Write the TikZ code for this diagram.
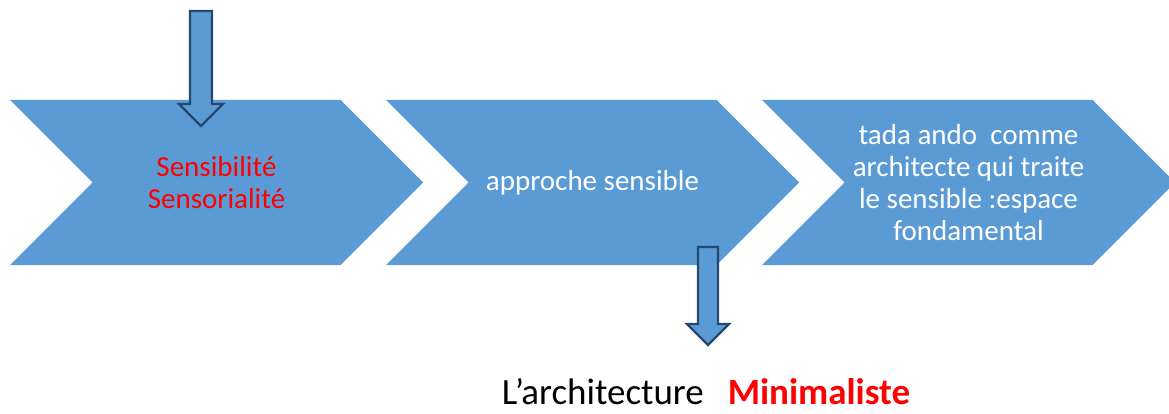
\documentclass[tikz,border=0pt]{standalone}
\usepackage{fontspec}
\setmainfont{Carlito}
\usepackage{xcolor}
\usetikzlibrary{shapes.symbols,positioning}
\definecolor{chevblue}{RGB}{91,155,213}
\definecolor{arrowedge}{RGB}{37,72,112}
\definecolor{accentred}{RGB}{255,0,0}

\begin{document}
\begin{tikzpicture}[
  x=1pt, y=-1pt,
  chevron/.style={signal, signal from=west, signal to=east, fill=chevblue, minimum width=413pt, minimum height=165pt, inner sep=0pt, align=center, font=\fontsize{29}{32}\selectfont},
  blockarrow/.style={fill=chevblue, draw=arrowedge, line width=2.2pt, line join=miter},
  caption/.style={anchor=base, inner sep=0pt, font=\fontsize{37}{40}\selectfont}
]
  \useasboundingbox (0,0) rectangle (1169,414);

  \node[chevron, text=accentred] (sens) at (216.5,182.5) {Sensibilité\\Sensorialité};
  \node[chevron, text=white] (approche) at (592.5,182.5) {approche sensible};
  \node[chevron, text=white] (ando) at (968.5,182.5) {tada ando~ comme\\architecte qui traite\\le sensible :espace\\fondamental};

  % block arrows
  \draw[blockarrow] (190,11) -- (212,11) -- (212,104) -- (223,104) -- (201,126) -- (179,104) -- (190,104) -- cycle;
  \draw[blockarrow] (698,247) -- (718,247) -- (718,324) -- (729,324) -- (708,345) -- (687,324) -- (698,324) -- cycle;

  \node[caption] (minimal) at (706,404) {L’architecture\hspace{24pt}\textcolor{accentred}{\textbf{Minimaliste}}};
\end{tikzpicture}
\end{document}
